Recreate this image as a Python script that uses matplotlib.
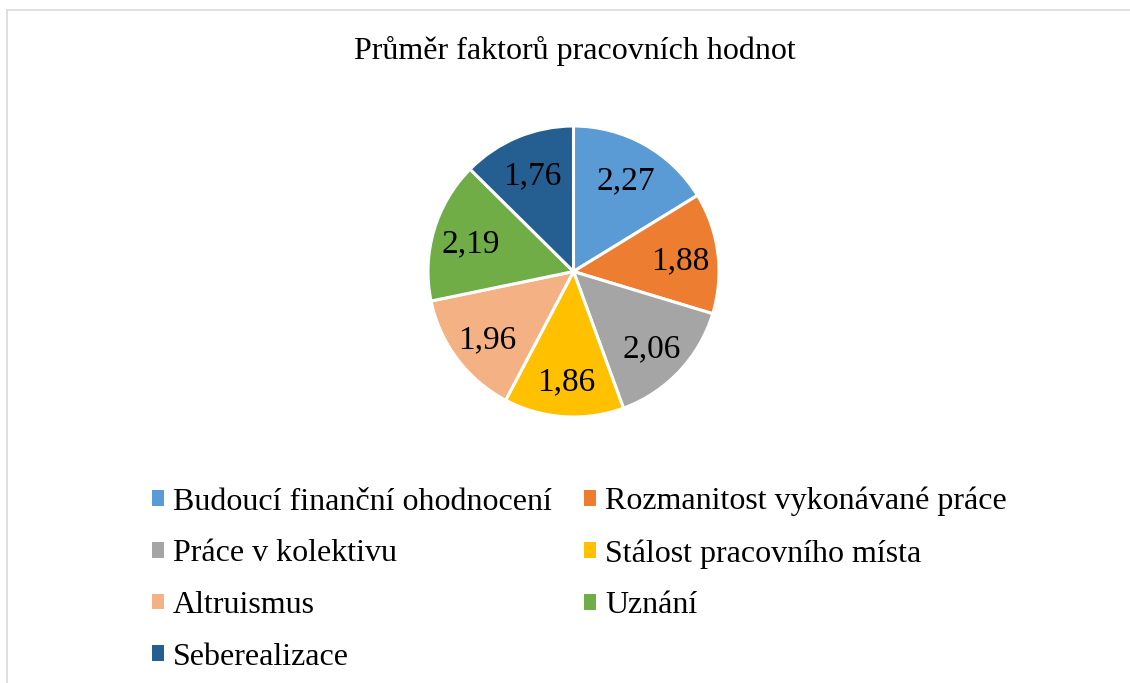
import matplotlib.pyplot as plt
from matplotlib.patches import Patch, Rectangle

plt.rcParams['font.family'] = ['Liberation Serif', 'DejaVu Serif']

# data
categories = ['Budoucí finanční ohodnocení', 'Rozmanitost vykonávané práce',
              'Práce v kolektivu', 'Stálost pracovního místa',
              'Altruismus', 'Uznání', 'Seberealizace']
values = [2.27, 1.88, 2.06, 1.86, 1.96, 2.19, 1.76]
colors = ['#5B9BD5', '#ED7D31', '#A5A5A5', '#FFC000', '#F4B183', '#70AD47', '#255E91']
title = 'Průměr faktorů pracovních hodnot'

W, H = 1130, 683
fig = plt.figure(figsize=(W / 100, H / 100), dpi=100)

# pie axes placed in pixel terms (center 573, 271, radius 145.5)
cx, cy, r = 573.5, 271.5, 145.5
ax = fig.add_axes([(cx - r) / W, (H - cy - r) / H, 2 * r / W, 2 * r / H])
wedges, texts = ax.pie(values, colors=colors, startangle=90, counterclock=False,
                       labels=[f'{v:.2f}'.replace('.', ',') for v in values],
                       labeldistance=0.74,
                       wedgeprops=dict(edgecolor='white', linewidth=2.2),
                       textprops=dict(fontsize=24, ha='center', va='center_baseline'))
ax.set_xlim(-1, 1)
ax.set_ylim(-1, 1)
ax.set_aspect('equal')

fig.text(575 / W, 1 - 59 / H, title, fontsize=23, ha='center', va='baseline')

# legend, row-major order like the original
order = [0, 2, 4, 6, 1, 3, 5]
handles = [Patch(facecolor=colors[i], edgecolor='none') for i in order]
fig.legend(handles, [categories[i] for i in order], ncol=2, frameon=False,
           loc='upper left', bbox_to_anchor=(152 / W, 1 - 487 / H),
           fontsize=23, handlelength=0.38, handleheight=0.38,
           handletextpad=0.28, labelspacing=0.71, columnspacing=1.0,
           borderpad=0, borderaxespad=0)

# chart border
fig.patches.append(Rectangle((7 / W, -0.1), 1.5, 1 - 10 / H + 0.1,
                             transform=fig.transFigure, fill=False,
                             edgecolor='#D9D9D9', linewidth=1.2))

fig.savefig('out.png', dpi=100)
